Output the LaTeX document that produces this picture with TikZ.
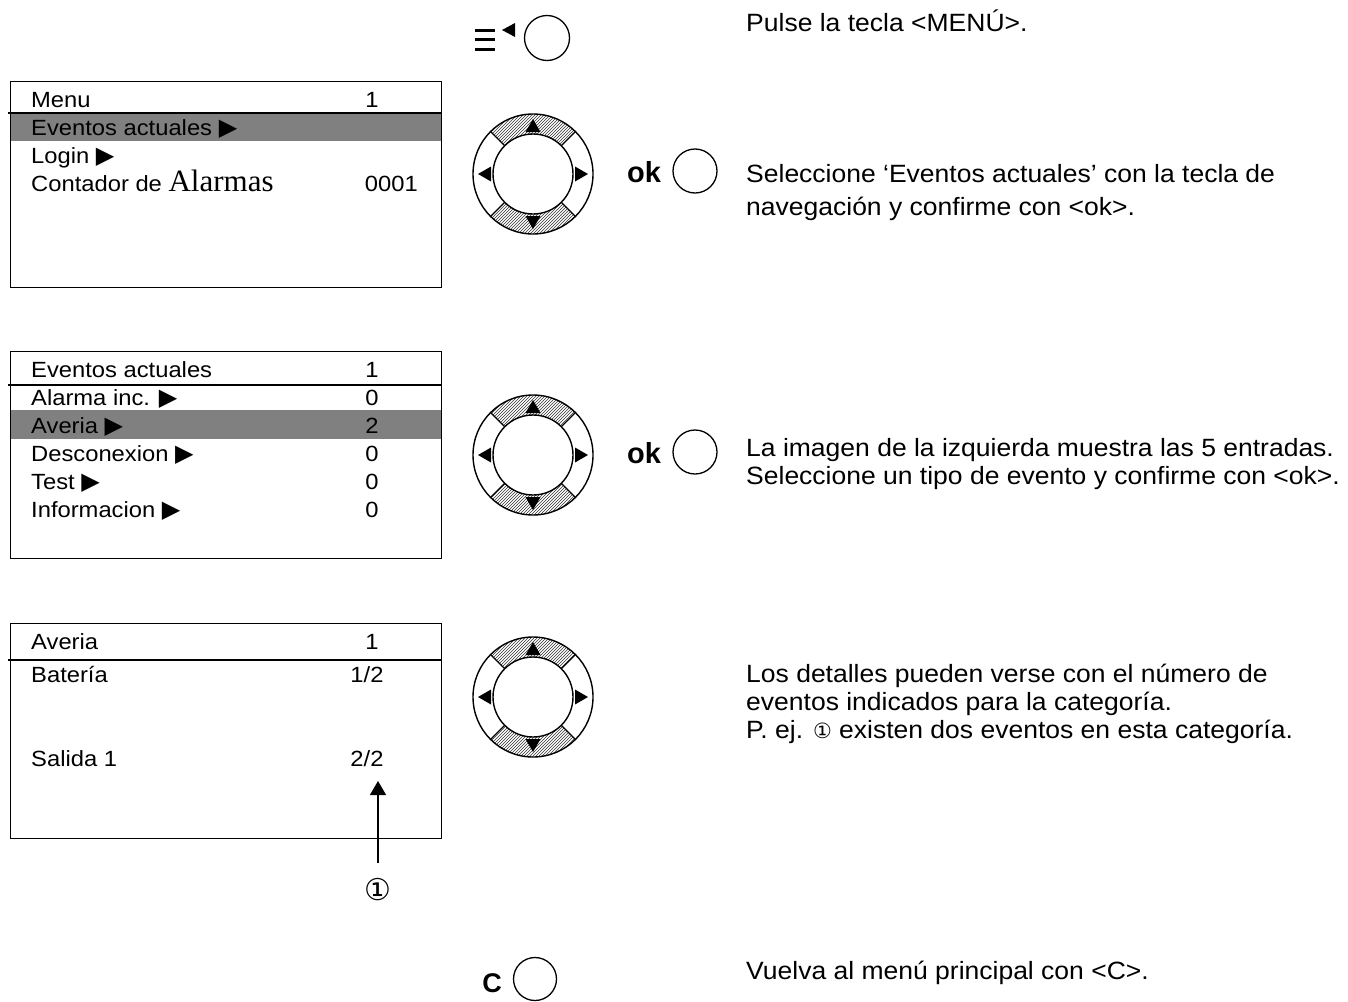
\documentclass[tikz,border=0pt]{standalone}
\usepackage{fontspec}
\setmainfont{Liberation Sans}
\newfontfamily\menuf[FakeStretch=1.08]{Liberation Sans}
\newfontfamily\rightf[FakeStretch=1.06]{Liberation Sans}
\newfontfamily\serifA{Liberation Serif}
\newfontfamily\symf{DejaVu Sans}
\usetikzlibrary{patterns,arrows.meta}
\newcommand\tri{{\symf\fontsize{24}{24}\selectfont ▶}}
\tikzset{
  txt/.style={anchor=base west, inner sep=0pt, font=\menuf\fontsize{22}{26}\selectfont},
  num/.style={anchor=base, inner sep=0pt, font=\menuf\fontsize{22}{26}\selectfont},
  numr/.style={anchor=base east, inner sep=0pt, font=\menuf\fontsize{22}{26}\selectfont},
  rtxt/.style={anchor=base west, inner sep=0pt, font=\rightf\fontsize{25}{28}\selectfont},
  screen/.style={draw, line width=1.4pt},
  key/.style={circle, draw, line width=1.3pt, minimum size=44pt, inner sep=0pt},
  keylbl/.style={inner sep=0pt, font=\fontsize{29}{32}\selectfont\bfseries},
  navwheel/.pic={
    \fill[pattern=north east lines, pattern color=black!80] (45:40) arc (45:135:40) -- (135:60) arc (135:45:60) -- cycle;
    \fill[pattern=north east lines, pattern color=black!80] (225:40) arc (225:315:40) -- (315:60) arc (315:225:60) -- cycle;
    \draw[line width=1.4pt] (0,0) circle (60) (0,0) circle (40);
    \draw[line width=1.2pt] (45:40) -- (45:60) (135:40) -- (135:60) (225:40) -- (225:60) (315:40) -- (315:60);
    \fill (0,-55) -- (-7.5,-42) -- (7.5,-42) -- cycle;
    \fill (0,55) -- (-7.5,42) -- (7.5,42) -- cycle;
    \fill (-55,0) -- (-42,-7.5) -- (-42,7.5) -- cycle;
    \fill (55,0) -- (42,-7.5) -- (42,7.5) -- cycle;
  }
}
\begin{document}
\begin{tikzpicture}[x=1pt,y=-1pt]
\useasboundingbox (0,0) rectangle (1348,1001);

% ---------- Screen 1 ----------
\fill[black!50] (10,113) rectangle (441,141);
\node[screen, minimum width=431pt, minimum height=206pt, anchor=north west, inner sep=0pt] (s1) at (10,81) {};
\draw[line width=1.2pt] (8,113) -- (441,113);
\node[txt] (s1a) at (31,107) {Menu};
\node[num] (s1an) at (372,107) {1};
\node[txt] (s1b) at (31,135) {Eventos actuales \tri};
\node[txt] (s1c) at (31,163) {Login \tri};
\node[txt] (s1d) at (31,191) {Contador de {\serifA\fontsize{31}{32}\selectfont Alarmas}};
\node[numr] (s1dn) at (418,191) {0001};

% ---------- Screen 2 ----------
\fill[black!50] (10,410) rectangle (441,439);
\node[screen, minimum width=431pt, minimum height=207pt, anchor=north west, inner sep=0pt] (s2) at (10,351) {};
\draw[line width=1.2pt] (8,385) -- (441,385);
\node[txt] (s2a) at (31,377) {Eventos actuales};
\node[num] (s2an) at (372,377) {1};
\node[txt] (s2b) at (31,405) {Alarma inc. \tri};
\node[num] (s2bn) at (372,405) {0};
\node[txt] (s2c) at (31,433) {Averia \tri};
\node[num] (s2cn) at (372,433) {2};
\node[txt] (s2d) at (31,461) {Desconexion \tri};
\node[num] (s2dn) at (372,461) {0};
\node[txt] (s2e) at (31,489) {Test \tri};
\node[num] (s2en) at (372,489) {0};
\node[txt] (s2f) at (31,517) {Informacion \tri};
\node[num] (s2fn) at (372,517) {0};

% ---------- Screen 3 ----------
\node[screen, minimum width=431pt, minimum height=215pt, anchor=north west, inner sep=0pt] (s3) at (10,623) {};
\draw[line width=1.2pt] (8,660) -- (441,660);
\node[txt] (s3a) at (31,649) {Averia};
\node[num] (s3an) at (372,649) {1};
\node[txt] (s3b) at (31,682) {Batería};
\node[num] (s3bn) at (367,682) {1/2};
\node[txt] (s3c) at (31,766) {Salida 1};
\node[num] (s3cn) at (367,766) {2/2};
\coordinate (arrs) at (378,863);
\coordinate (arre) at (378,781);
\draw[line width=1.2pt, -{Triangle[length=14pt, width=16pt]}] (arrs) -- (arre);
\node[inner sep=0pt, font=\symf\fontsize{30}{32}\selectfont] (c1) at (378,890) {①};

% ---------- Keys ----------
\node[key, minimum size=45pt] (kmenu) at (547,38) {};
\draw[line width=3pt] (475,30) -- (495,30) (475,39.5) -- (495,39.5) (475,49) -- (495,49);
\fill (502,30) -- (515,23) -- (515,37) -- cycle;

\pic (w1) at (533,174) {navwheel};
\node[keylbl] (ok1) at (644,172) {ok};
\node[key] (kok1) at (695,171) {};

\pic (w2) at (533,455) {navwheel};
\node[keylbl] (ok2) at (644,453) {ok};
\node[key] (kok2) at (695,452) {};

\pic (w3) at (533,697) {navwheel};

\node[keylbl, font=\fontsize{27}{30}\selectfont\bfseries] (cl) at (492,983) {C};
\node[key, minimum size=43pt] (kc) at (535,979) {};

% ---------- Right texts ----------
\node[rtxt] (t1) at (746,31) {Pulse la tecla <MENÚ>.};
\node[rtxt] (t2) at (746,182) {Seleccione ‘Eventos actuales’ con la tecla de};
\node[rtxt] (t3) at (746,215) {navegación y confirme con <ok>.};
\node[rtxt] (t4) at (746,456) {La imagen de la izquierda muestra las 5 entradas.};
\node[rtxt] (t5) at (746,484) {Seleccione un tipo de evento y confirme con <ok>.};
\node[rtxt] (t6) at (746,682) {Los detalles pueden verse con el número de};
\node[rtxt] (t7) at (746,710) {eventos indicados para la categoría.};
\node[rtxt] (t8) at (746,738) {P. ej. {\symf\fontsize{21}{22}\selectfont ①} existen dos eventos en esta categoría.};
\node[rtxt] (t9) at (746,979) {Vuelva al menú principal con <C>.};
\end{tikzpicture}
\end{document}
